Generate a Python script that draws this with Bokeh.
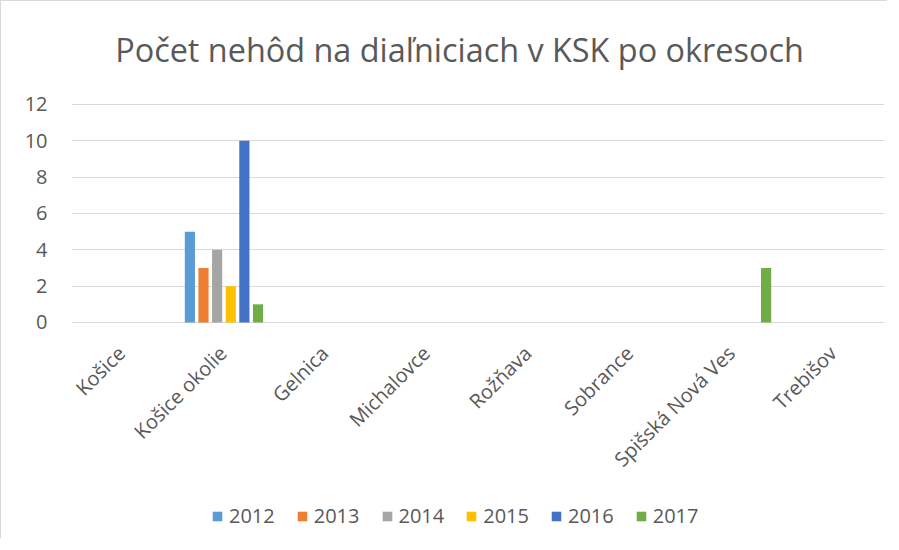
import math
from bokeh.plotting import figure
from bokeh.models import (FactorRange, Range1d, FixedTicker, Legend, LegendItem,
                          ColumnDataSource, Label)
from bokeh.core.properties import value
from bokeh.transform import dodge
from bokeh.embed import file_html
from bokeh.resources import INLINE

categories = ["Košice", "Košice okolie", "Gelnica", "Michalovce", "Rožňava",
              "Sobrance", "Spišská Nová Ves", "Trebišov"]
years = ["2012", "2013", "2014", "2015", "2016", "2017"]
v2012 = [0, 5, 0, 0, 0, 0, 0, 0]
v2013 = [0, 3, 0, 0, 0, 0, 0, 0]
v2014 = [0, 4, 0, 0, 0, 0, 0, 0]
v2015 = [0, 2, 0, 0, 0, 0, 0, 0]
v2016 = [0, 10, 0, 0, 0, 0, 0, 0]
v2017 = [0, 1, 0, 0, 0, 0, 3, 0]
y_ticks = [0, 2, 4, 6, 8, 10, 12]
colors = ["#5B9BD5", "#ED7D31", "#A5A5A5", "#FFC000", "#4472C4", "#70AD47"]
title_text = "Počet nehôd na diaľniciach v KSK po okresoch"

FONT = "Open Sans"
GRAY = "#595959"

data = {"cat": categories, "base": [0] * len(categories)}
series = [v2012, v2013, v2014, v2015, v2016, v2017]
for y, s in zip(years, series):
    data[y] = s
source = ColumnDataSource(data)

# frame covers nearly the whole canvas; values 0..12 occupy the band between the gridlines,
# the space above holds the title and the space below holds category labels and legend
p = figure(width=887, height=538, output_backend="svg", toolbar_location=None,
           x_range=FactorRange(factors=categories), y_range=Range1d(-11.725, 17.449),
           min_border_left=70, min_border_right=4, min_border_top=4, min_border_bottom=4)
p.styles = {"border-left": "1px solid #d9d9d9", "border-top": "1px solid #d9d9d9"}

title = Label(x=3.818, y=15.03, text=title_text, text_align="center",
              text_baseline="alphabetic", text_font=FONT, text_font_size="32.4px",
              text_color=GRAY)
p.add_layout(title)

step = 0.134
renderers = []
for i, (y, c) in enumerate(zip(years, colors)):
    r = p.vbar(x=dodge("cat", (i - 2.5) * step, range=p.x_range), top=y, width=0.1,
               source=source, fill_color=c, line_color=None)
    renderers.append(r)

# category labels, rotated 45 degrees under the zero line
p.text(x="cat", y="base", text="cat", source=source, angle=math.pi / 4,
       text_align="right", text_baseline="middle", x_offset=-1, y_offset=27,
       text_font=value(FONT), text_font_size="20px", text_color=GRAY)

p.outline_line_color = None
p.xgrid.grid_line_color = None
p.ygrid.grid_line_color = "#d9d9d9"
p.ygrid.grid_line_width = 1
p.ygrid.ticker = FixedTicker(ticks=y_ticks)

p.xaxis.visible = False

p.yaxis.ticker = FixedTicker(ticks=y_ticks)
p.yaxis.axis_line_color = None
p.yaxis.major_tick_line_color = None
p.yaxis.major_tick_out = 0
p.yaxis.minor_tick_line_color = None
p.yaxis.major_label_text_font = FONT
p.yaxis.major_label_text_font_size = "20px"
p.yaxis.major_label_text_color = GRAY
p.yaxis.major_label_standoff = 24

legend = Legend(items=[LegendItem(label=y, renderers=[r]) for y, r in zip(years, renderers)],
                orientation="horizontal", location=(140, 6))
legend.glyph_width = 12
legend.glyph_height = 12
legend.label_standoff = 6
legend.spacing = 21
legend.padding = 0
legend.margin = 0
legend.border_line_color = None
legend.background_fill_alpha = 0
legend.label_text_font = FONT
legend.label_text_font_size = "20px"
legend.label_text_color = GRAY
p.add_layout(legend, "center")

open("out.html", "w").write(file_html(p, INLINE))
